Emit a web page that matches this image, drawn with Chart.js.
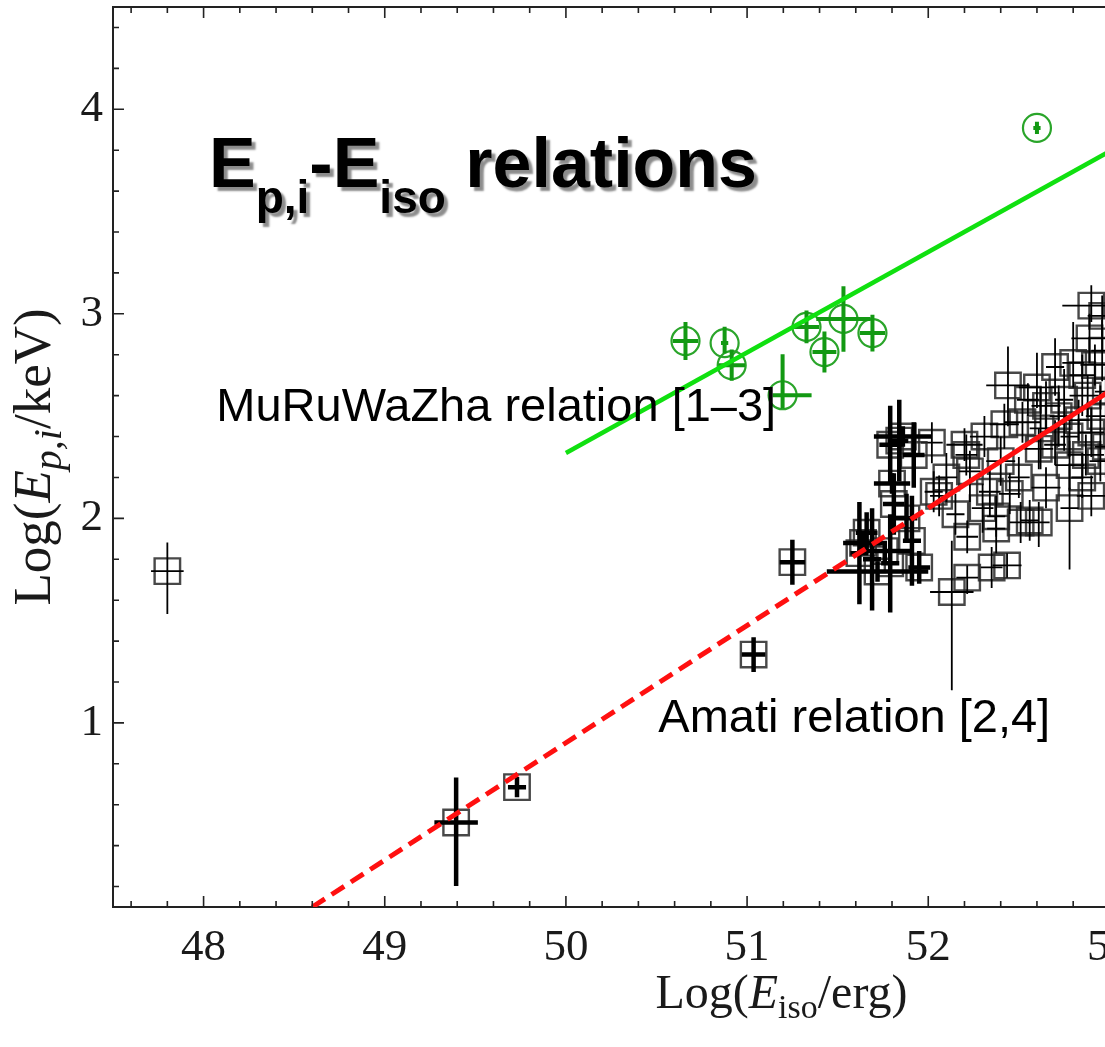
<!DOCTYPE html>
<html lang="en">
<head>
  <meta charset="UTF-8">
  <title>Ep,i - Eiso relations</title>
  <script src="https://cdn.jsdelivr.net/npm/chart.js"></script>
  <style>
    html, body { margin: 0; padding: 0; overflow: hidden; background: #fff; }
    #wrap { width: 1200px; height: 1047px; }
  </style>
</head>
<body>
<div id="wrap"><canvas id="myChart" width="1200" height="1047"></canvas></div>
<script>
// axis ticks
const xTicks = [48, 49, 50, 51, 52, 53];
const yTicks = [1, 2, 3, 4];

// green sample (MuRuWaZha relation)
const grnX   = [50.66, 50.876, 50.915, 51.196, 51.328, 51.427, 51.532, 51.692, 52.60];
const grnY   = [2.867, 2.857, 2.749, 2.602, 2.936, 2.813, 2.975, 2.906, 3.909];
const grnXLo = [0.07, 0.02, 0.074, 0.055, 0.07, 0.066, 0.15, 0.07, 0.02];
const grnXHi = [0.07, 0.02, 0.074, 0.16, 0.07, 0.066, 0.15, 0.07, 0.02];
const grnYLo = [0.093, 0.05, 0.076, 0.066, 0.08, 0.10, 0.16, 0.09, 0.03];
const grnYHi = [0.093, 0.08, 0.076, 0.20, 0.08, 0.10, 0.16, 0.09, 0.03];

// black sample, bold error bars
const setAX  = [49.394, 49.73, 51.036, 51.25, 51.79, 51.84, 51.92, 51.86, 51.80, 51.81, 51.62, 51.69, 51.79, 51.91, 51.72, 51.64, 51.76, 51.88, 51.95, 51.66];
const setAY  = [0.513, 0.686, 1.334, 1.786, 2.36, 2.38, 2.31, 2.40, 2.17, 2.07, 1.83, 1.80, 1.78, 1.89, 1.74, 1.88, 1.84, 2.00, 1.76, 1.93];
const setAXE = [0.12, 0.05, 0.065, 0.07, 0.06, 0.05, 0.06, 0.16, 0.10, 0.06, 0.05, 0.05, 0.05, 0.05, 0.28, 0.11, 0.15, 0.06, 0.06, 0.06];
const setAYLo = [0.31, 0.05, 0.085, 0.11, 0.19, 0.20, 0.16, 0.05, 0.05, 0.15, 0.25, 0.25, 0.24, 0.22, 0.05, 0.05, 0.05, 0.12, 0.08, 0.10];
const setAYHi = [0.22, 0.05, 0.085, 0.11, 0.19, 0.20, 0.16, 0.05, 0.05, 0.15, 0.25, 0.25, 0.24, 0.22, 0.05, 0.05, 0.05, 0.12, 0.08, 0.10];

// black sample, thin error bars
const setBX = [47.80, 52.90, 52.96, 52.89, 52.96, 52.80, 52.92, 52.70, 52.85, 52.60,
               52.44, 52.55, 52.65, 52.75, 52.88, 52.98, 52.72, 52.83, 52.95, 52.52,
               52.42, 52.62, 52.78, 52.90, 52.31, 52.20, 52.02, 52.70, 52.61, 52.87,
               52.98, 52.21, 52.40, 52.50, 52.78, 52.23, 52.34, 52.06, 52.90, 52.78,
               52.61, 52.56, 52.51, 52.375, 52.375, 52.215, 52.35, 52.435, 52.215, 52.13,
               52.10, 52.15, 52.30, 52.45, 52.65, 52.85, 52.95, 52.03];
const setBY = [1.742, 3.04, 2.99, 2.88, 2.82, 2.76, 2.75, 2.74, 2.70, 2.64,
               2.65, 2.58, 2.55, 2.58, 2.60, 2.62, 2.50, 2.48, 2.50, 2.47,
               2.46, 2.44, 2.40, 2.42, 2.40, 2.36, 2.37, 2.36, 2.34, 2.31,
               2.35, 2.31, 2.28, 2.20, 2.26, 2.23, 2.13, 2.11, 2.11, 2.05,
               1.98, 1.99, 1.98, 1.95, 2.01, 1.91, 1.76, 1.77, 1.71, 1.64,
               2.20, 2.02, 2.05, 2.12, 2.15, 2.20, 2.28, 2.13];
const setBXE = [0.09, 0.16, 0.08, 0.10, 0.06, 0.06, 0.08, 0.05, 0.07, 0.10,
                0.12, 0.06, 0.08, 0.05, 0.10, 0.06, 0.05, 0.06, 0.08, 0.10,
                0.08, 0.06, 0.05, 0.07, 0.08, 0.10, 0.06, 0.06, 0.08, 0.10,
                0.06, 0.06, 0.08, 0.06, 0.08, 0.06, 0.06, 0.05, 0.08, 0.05,
                0.06, 0.05, 0.06, 0.05, 0.05, 0.06, 0.06, 0.08, 0.06, 0.12,
                0.06, 0.05, 0.06, 0.06, 0.08, 0.06, 0.06, 0.05];
const setBYLo = [0.21, 0.08, 0.10, 0.12, 0.15, 0.12, 0.10, 0.14, 0.20, 0.10,
                 0.20, 0.08, 0.12, 0.25, 0.10, 0.12, 0.15, 0.10, 0.15, 0.10,
                 0.12, 0.20, 0.10, 0.12, 0.10, 0.08, 0.10, 0.10, 0.10, 0.10,
                 0.15, 0.10, 0.12, 0.10, 0.12, 0.15, 0.12, 0.10, 0.10, 0.30,
                 0.12, 0.10, 0.10, 0.12, 0.10, 0.08, 0.10, 0.06, 0.08, 0.48,
                 0.12, 0.10, 0.12, 0.10, 0.10, 0.10, 0.10, 0.10];
const setBYHi = [0.14, 0.10, 0.10, 0.12, 0.15, 0.20, 0.10, 0.14, 0.10, 0.17,
                 0.19, 0.08, 0.12, 0.15, 0.10, 0.12, 0.15, 0.10, 0.15, 0.10,
                 0.10, 0.20, 0.10, 0.12, 0.10, 0.08, 0.10, 0.12, 0.10, 0.10,
                 0.15, 0.10, 0.12, 0.10, 0.12, 0.10, 0.12, 0.10, 0.10, 0.10,
                 0.10, 0.10, 0.10, 0.06, 0.10, 0.08, 0.10, 0.06, 0.06, 0.25,
                 0.12, 0.10, 0.12, 0.10, 0.10, 0.12, 0.10, 0.10];

// fitted relations, end points
const amatiDashX = [48.6, 52.0],  amatiDashY = [0.1, 2.05];
const amatiFitX  = [52.0, 53.4],  amatiFitY  = [2.05, 2.85];
const mrwFitX    = [50.0, 53.4],  mrwFitY    = [2.32, 3.99];

function pts(xs, ys) {
  return xs.map((x, i) => ({ x: x, y: ys[i] }));
}
function errPts(xs, ys, xlo, xhi, ylo, yhi) {
  return xs.map((x, i) => ({ x: x, y: ys[i], xlo: xlo[i], xhi: xhi[i], ylo: ylo[i], yhi: yhi[i] }));
}

const serif = 'Liberation Serif';
const sans = 'Liberation Sans';

// error crosses, drawn right after their own dataset
const errorBars = {
  id: 'errorBars',
  afterDatasetDraw(chart, args) {
    const ds = chart.data.datasets[args.index];
    if (!ds.errWidth) return;
    const ctx = chart.ctx, xs = chart.scales.x, ys = chart.scales.y, a = chart.chartArea;
    ctx.save();
    ctx.beginPath();
    ctx.rect(a.left, a.top, a.right - a.left, a.bottom - a.top);
    ctx.clip();
    ctx.strokeStyle = ds.errColor;
    ctx.lineWidth = ds.errWidth;
    ds.data.forEach(d => {
      const px = xs.getPixelForValue(d.x), py = ys.getPixelForValue(d.y);
      ctx.beginPath();
      ctx.moveTo(xs.getPixelForValue(d.x - d.xlo), py);
      ctx.lineTo(xs.getPixelForValue(d.x + d.xhi), py);
      ctx.moveTo(px, ys.getPixelForValue(d.y - d.ylo));
      ctx.lineTo(px, ys.getPixelForValue(d.y + d.yhi));
      ctx.stroke();
    });
    ctx.restore();
  }
};

// frame with inward major/minor ticks
const frame = {
  id: 'frame',
  afterDatasetsDraw(chart) {
    const ctx = chart.ctx, xs = chart.scales.x, ys = chart.scales.y, a = chart.chartArea;
    const step = 0.2, major = 11, minor = 6;
    ctx.save();
    ctx.strokeStyle = '#222';
    ctx.lineWidth = 2;
    ctx.beginPath();
    ctx.moveTo(a.left, a.top); ctx.lineTo(a.right, a.top); ctx.lineTo(a.right, a.bottom);
    ctx.stroke();
    ctx.lineWidth = 1.6;
    ctx.beginPath();
    for (let k = Math.ceil(xs.min / step); k * step <= xs.max; k++) {
      const v = k * step;
      const len = Math.abs(v - Math.round(v)) < 1e-6 ? major : minor;
      const p = xs.getPixelForValue(v);
      ctx.moveTo(p, a.bottom); ctx.lineTo(p, a.bottom - len);
      ctx.moveTo(p, a.top); ctx.lineTo(p, a.top + len);
    }
    for (let k = Math.ceil(ys.min / step); k * step <= ys.max; k++) {
      const v = k * step;
      const len = Math.abs(v - Math.round(v)) < 1e-6 ? major : minor;
      const p = ys.getPixelForValue(v);
      ctx.moveTo(a.left, p); ctx.lineTo(a.left + len, p);
      ctx.moveTo(a.right, p); ctx.lineTo(a.right - len, p);
    }
    ctx.stroke();
    ctx.restore();
  }
};

function drawRich(ctx, parts, x, y, align) {
  let w = 0;
  parts.forEach(p => { ctx.font = p[1]; w += ctx.measureText(p[0]).width; });
  let cx = align === 'center' ? x - w / 2 : x;
  parts.forEach(p => {
    ctx.font = p[1];
    ctx.fillText(p[0], cx, y + (p[2] || 0));
    cx += ctx.measureText(p[0]).width;
  });
}

// title, relation labels and axis titles
const labels = {
  id: 'labels',
  afterDraw(chart) {
    const ctx = chart.ctx, xs = chart.scales.x, ys = chart.scales.y, a = chart.chartArea;
    ctx.save();
    ctx.fillStyle = '#000';
    ctx.textBaseline = 'alphabetic';

    ctx.save();
    ctx.shadowColor = 'rgba(0,0,0,0.45)';
    ctx.shadowOffsetX = 4;
    ctx.shadowOffsetY = 4;
    ctx.shadowBlur = 2;
    drawRich(ctx, [
      ['E', 'bold 70px ' + sans],
      ['p,i', 'bold 46px ' + sans, 26],
      ['-', 'bold 70px ' + sans],
      ['E', 'bold 70px ' + sans],
      ['iso', 'bold 46px ' + sans, 26],
      [' relations', 'bold 70px ' + sans]
    ], xs.getPixelForValue(48.03), ys.getPixelForValue(3.62));
    ctx.restore();

    ctx.font = '47px ' + sans;
    ctx.fillText('MuRuWaZha relation [1\u20133]', xs.getPixelForValue(48.07), ys.getPixelForValue(2.475));
    ctx.fillText('Amati relation [2,4]', xs.getPixelForValue(50.51), ys.getPixelForValue(0.955));

    ctx.fillStyle = '#1a1a1a';
    drawRich(ctx, [
      ['Log(', '48px ' + serif],
      ['E', 'italic 48px ' + serif],
      ['iso', '34px ' + serif, 10],
      ['/erg)', '48px ' + serif]
    ], xs.getPixelForValue(51.19), a.bottom + 101, 'center');

    ctx.translate(50, (a.top + a.bottom) / 2);
    ctx.rotate(-Math.PI / 2);
    drawRich(ctx, [
      ['Log(', '53px ' + serif],
      ['E', 'italic 53px ' + serif],
      ['p,i', 'italic 40px ' + serif, 11],
      ['/keV)', '53px ' + serif]
    ], 0, 0, 'center');
    ctx.restore();
  }
};

// scale paddings are zeroed so the plot box keeps its fixed size
function fixX(s) { s.height = 140; s.paddingLeft = 0; s.paddingRight = 0; }
function fixY(s) { s.width = 113; s.paddingTop = 0; s.paddingBottom = 0; }

const ctx = document.getElementById('myChart').getContext('2d');
new Chart(ctx, {
  type: 'scatter',
  data: {
    datasets: [{
      data: pts(mrwFitX, mrwFitY),
      showLine: true, borderColor: '#10e010', borderWidth: 4.5,
      pointRadius: 0, order: 0
    }, {
      data: pts(amatiDashX, amatiDashY),
      showLine: true, borderColor: '#ff1010', borderWidth: 5, borderDash: [15, 8],
      pointRadius: 0, order: 0
    }, {
      data: pts(amatiFitX, amatiFitY),
      showLine: true, borderColor: '#ff1010', borderWidth: 5,
      pointRadius: 0, order: 0
    }, {
      data: errPts(grnX, grnY, grnXLo, grnXHi, grnYLo, grnYHi),
      pointStyle: 'circle', pointRadius: 14, borderWidth: 2.2,
      borderColor: '#2aa52a', backgroundColor: 'rgba(0,0,0,0)',
      errWidth: 4, errColor: '#139913', order: 1
    }, {
      data: errPts(setAX, setAY, setAXE, setAXE, setAYLo, setAYHi),
      pointStyle: 'rect', pointRadius: 18, borderWidth: 2.4,
      borderColor: 'rgba(40,40,40,0.85)', backgroundColor: 'rgba(0,0,0,0)',
      errWidth: 4.5, errColor: '#000', order: 2
    }, {
      data: errPts(setBX, setBY, setBXE, setBXE, setBYLo, setBYHi),
      pointStyle: 'rect', pointRadius: 18, borderWidth: 2.4,
      borderColor: 'rgba(40,40,40,0.85)', backgroundColor: 'rgba(0,0,0,0)',
      errWidth: 1.8, errColor: '#000', order: 3
    }]
  },
  options: {
    responsive: false,
    animation: false,
    devicePixelRatio: 1,
    layout: { autoPadding: false, padding: { top: 7, right: 0, left: 0, bottom: 0 } },
    plugins: { legend: { display: false }, tooltip: { enabled: false } },
    scales: {
      x: {
        type: 'linear', min: 47.5, max: 53.5,
        afterBuildTicks: s => { s.ticks = xTicks.map(v => ({ value: v })); },
        afterFit: fixX,
        grid: { display: false, drawTicks: false },
        border: { display: true, color: '#222', width: 2 },
        ticks: { font: { family: serif, size: 45 }, color: '#1a1a1a', padding: 14, maxRotation: 0 }
      },
      y: {
        type: 'linear', min: 0.1, max: 4.5,
        afterBuildTicks: s => { s.ticks = yTicks.map(v => ({ value: v })); },
        afterFit: fixY,
        grid: { display: false, drawTicks: false },
        border: { display: true, color: '#222', width: 2 },
        ticks: { font: { family: serif, size: 45 }, color: '#1a1a1a', padding: 10 }
      }
    }
  },
  plugins: [errorBars, frame, labels]
});
</script>
</body>
</html>
